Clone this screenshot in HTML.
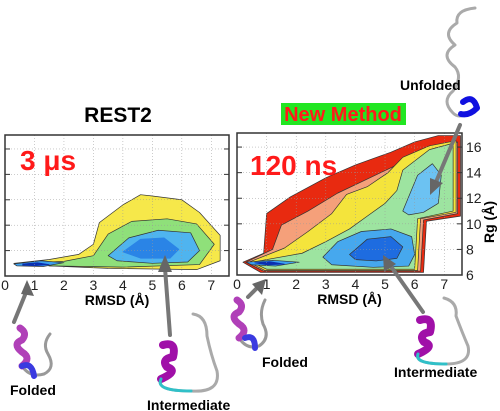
<!DOCTYPE html>
<html><head><meta charset="utf-8"><style>
body{margin:0;background:#fff}
svg{display:block;font-family:"Liberation Sans",sans-serif}
</style></head><body>
<svg id="fig" width="500" height="411" viewBox="0 0 500 411" xmlns="http://www.w3.org/2000/svg">
<text x="118" y="122" font-size="21" font-weight="bold" text-anchor="middle">REST2</text>
<rect x="281" y="103" width="125" height="22" fill="#22e622"/>
<text x="343" y="121" font-size="20" font-weight="bold" fill="#ff1a1a" text-anchor="middle">New Method</text>
<g id="left"></g><g id="right"></g>
</svg>
<script>
// ---- data ----
const xTicks=[0,1,2,3,4,5,6,7];
const yTicks=[6,8,10,12,14,16];
const xDomain=[0,7.6], yDomain=[6,17.1];
const leftYellowX=[0.3,1.5,2.5,3.0,3.2,4.0,4.6,5.0,6.0,6.6,7.3,7.3,6.5,3.5,1.5];
const leftYellowY=[7.0,7.3,7.7,8.5,10.2,11.6,12.4,12.3,12.0,11.0,9.2,7.2,6.5,6.6,6.8];
const leftGreenX=[0.4,2.0,3.0,3.5,4.3,5.5,6.5,7.1,6.6,4.0,1.5];
const leftGreenY=[7.0,7.15,7.6,9.3,10.3,10.5,10.1,8.5,6.9,6.7,6.8];
const leftBlueX=[3.5,4.2,5.2,6.3,6.6,6.2,5.0,3.8];
const leftBlueY=[7.6,9.0,9.6,9.4,8.0,7.1,7.0,7.2];
const leftDeepX=[4.0,4.6,5.4,5.9,5.6,4.6];
const leftDeepY=[7.9,8.9,9.0,8.1,7.4,7.4];
const leftFoldedX=[0.3,1.2,2.0,1.3,0.4];
const leftFoldedY=[6.95,7.2,7.05,6.75,6.8];
const leftFoldedDeepX=[0.6,1.1,1.5,1.0,0.6];
const leftFoldedDeepY=[6.95,7.05,6.9,6.8,6.85];
const rRedX=[0.2,0.9,1.0,1.8,3.0,4.0,5.2,6.0,6.8,7.55,7.55,6.4,6.3,0.8];
const rRedY=[7.0,7.7,10.8,12.1,13.6,14.6,15.6,16.4,16.9,16.9,10.6,10.2,6.2,6.2];
const rOrangeX=[0.3,1.2,1.5,2.4,3.4,4.4,5.4,6.4,7.45,7.45,6.3,6.2,0.9];
const rOrangeY=[7.0,8.0,9.9,11.0,12.4,13.5,14.6,15.6,16.4,10.8,10.3,6.3,6.3];
const rYellowX=[0.4,1.6,2.4,3.2,3.7,4.4,5.1,5.6,6.5,7.4,7.4,6.2,6.1,0.95];
const rYellowY=[7.0,8.1,9.4,10.8,12.3,12.9,14.0,15.2,16.1,16.5,10.9,10.4,6.35,6.35];
const rGreenX=[0.5,2.2,3.0,3.8,4.4,5.0,5.4,5.6,6.5,7.3,7.3,6.1,6.0,1.0];
const rGreenY=[7.0,7.7,8.6,9.6,10.6,11.6,12.6,14.2,15.8,16.3,11.0,10.4,6.45,6.45];
const rCyanX=[2.9,3.4,4.2,5.2,5.9,6.0,5.8,4.6,3.2];
const rCyanY=[7.4,8.6,9.4,9.6,9.0,7.6,6.7,6.6,6.8];
const rUpperX=[5.6,6.1,6.6,6.9,6.8,6.3,5.8];
const rUpperY=[11.0,13.8,14.7,13.8,11.6,10.9,10.7];
const rDeepX=[3.8,4.4,5.2,5.6,5.4,4.7,4.0];
const rDeepY=[7.6,8.8,9.0,8.2,7.3,7.1,7.2];
const rFoldedX=[0.3,1.2,2.1,1.3,0.5];
const rFoldedY=[7.0,7.15,7.0,6.7,6.8];
const rFoldedDeepX=[0.6,1.1,1.6,1.0];
const rFoldedDeepY=[6.95,7.05,6.85,6.8];

const NS="http://www.w3.org/2000/svg";
function mk(parent,tag,attrs){const e=document.createElementNS(NS,tag);for(const k in attrs)e.setAttribute(k,attrs[k]);parent.appendChild(e);return e;}
function panel(g,x0,top,width,height,name,layers,showY){
  const sx=v=>x0+(v-xDomain[0])/(xDomain[1]-xDomain[0])*width;
  const sy=v=>top+height-(v-yDomain[0])/(yDomain[1]-yDomain[0])*height;
  const bg=mk(g,'rect',{x:x0,y:top,width:width,height:height,fill:'#fff'});
  
  
  layers.forEach(L=>{
    const pts=L.xs.map((v,i)=>sx(v)+','+sy(L.ys[i])).join(' ');
    const p=mk(g,'polygon',{points:pts,fill:L.fill,stroke:L.stroke||'#333','stroke-width':0.7,'stroke-linejoin':'round'});
    
    
  });
  xTicks.forEach(t=>{
    const l=mk(g,'line',{x1:sx(t),x2:sx(t),y1:top,y2:top+height,stroke:'#999','stroke-width':0.5,'stroke-dasharray':'1,2'});
    
    
    const tx=mk(g,'text',{x:sx(t),y:top+height+14,'font-size':14,'text-anchor':'middle',fill:'#222'});
    tx.textContent=t;
    
    
  });
  yTicks.forEach(t=>{
    const l=mk(g,'line',{x1:x0,x2:x0+width,y1:sy(t),y2:sy(t),stroke:'#999','stroke-width':0.5,'stroke-dasharray':'1,2'});
    
    
    mk(g,'line',{x1:x0,x2:x0+5,y1:sy(t),y2:sy(t),stroke:'#333'});
    mk(g,'line',{x1:x0+width-5,x2:x0+width,y1:sy(t),y2:sy(t),stroke:'#333'});
    if(showY){
      const tx=mk(g,'text',{x:x0+width+4,y:sy(t)+5,'font-size':14,fill:'#222'});
      tx.textContent=t;
      
      
    }
  });
  const fr=mk(g,'rect',{x:x0,y:top,width:width,height:height,fill:'none',stroke:'#333','stroke-width':1.5});
  
  
  const xl=mk(g,'text',{x:x0+width/2,y:top+height+29,'font-size':14,'font-weight':'bold','text-anchor':'middle'});
  xl.textContent='RMSD (Å)';
  
  
}
const L=document.getElementById('left'), R=document.getElementById('right');
panel(L,5,135,224,141,'rest2',[
  {n:'yellow',xs:leftYellowX,ys:leftYellowY,fill:'#f6e84a'},
  {n:'green',xs:leftGreenX,ys:leftGreenY,fill:'#8fe07a'},
  {n:'blue',xs:leftBlueX,ys:leftBlueY,fill:'#4fb4ef'},
  {n:'deep',xs:leftDeepX,ys:leftDeepY,fill:'#2a84e6',stroke:'#2a84e6'},
  {n:'folded',xs:leftFoldedX,ys:leftFoldedY,fill:'#3aa0f0'},
  {n:'folded-deep',xs:leftFoldedDeepX,ys:leftFoldedDeepY,fill:'#0b2fb0',stroke:'#0b2fb0'}
],false);
panel(R,237,133,225,142,'new-method',[
  {n:'red',xs:rRedX,ys:rRedY,fill:'#e82a10'},
  {n:'orange',xs:rOrangeX,ys:rOrangeY,fill:'#f5a07a'},
  {n:'yellow',xs:rYellowX,ys:rYellowY,fill:'#f4e43c'},
  {n:'green',xs:rGreenX,ys:rGreenY,fill:'#9de4a0'},
  {n:'cyan',xs:rCyanX,ys:rCyanY,fill:'#46a8ee'},
  {n:'upper',xs:rUpperX,ys:rUpperY,fill:'#6cc2f2'},
  {n:'deep',xs:rDeepX,ys:rDeepY,fill:'#1e6ce0'},
  {n:'folded',xs:rFoldedX,ys:rFoldedY,fill:'#3aa0f0'},
  {n:'folded-deep',xs:rFoldedDeepX,ys:rFoldedDeepY,fill:'#0b2fb0',stroke:'#0b2fb0'}
],true);
</script>
<svg style="position:absolute;left:0;top:0" width="500" height="411" viewBox="0 0 500 411" xmlns="http://www.w3.org/2000/svg" font-family="Liberation Sans, sans-serif">
<text x="20" y="170" font-size="28" font-weight="bold" fill="#ff1a1a">3 μs</text>
<text x="250" y="175" font-size="28" font-weight="bold" fill="#ff1a1a">120 ns</text>
<text transform="translate(494,222) rotate(-90)" font-size="14" font-weight="bold" text-anchor="middle">Rg (Å)</text>
<g fill="none" stroke-linecap="round" stroke-linejoin="round">
 <path d="M20 328 q8 5 2 12 q-10 4 0 12 q10 6 0 14 q8 12 22 8 q12-6 4-20 q-6-10 2-20" stroke="#999" stroke-width="3"/>
 <path d="M20 328 q8 5 2 12 q-10 4 0 12 q10 6 0 14" stroke="#b040b8" stroke-width="7"/>
 <path d="M22 366 q10 -4 12 10" stroke="#3a3ae0" stroke-width="6"/>
 <path d="M163 345 q14-4 10 12 q-12 2-6 10 q12 4-6 12 q-6 12 30 12 q30 2 26-20 q-6-16-10-35 q0-20-14-22" stroke="#aaa" stroke-width="3"/>
 <path d="M163 345 q14-4 10 12 q-12 2-6 10 q12 4-6 12" stroke="#a010a8" stroke-width="8"/>
 <path d="M161 379 q-6 12 30 12" stroke="#30c0c8" stroke-width="3"/>
 <path d="M237 300 q8 5 2 12 q-10 4 0 12 q10 6 0 14 q8 12 20 8 q12-8 4-22 q-4-12 2-24" stroke="#999" stroke-width="3"/>
 <path d="M237 300 q8 5 2 12 q-10 4 0 12 q10 6 0 14" stroke="#b040b8" stroke-width="7"/>
 <path d="M245 338 q10 -4 10 10" stroke="#3a3ae0" stroke-width="6"/>
 <path d="M420 320 q14-4 10 12 q-12 2-6 10 q12 4-6 12 q-4 10 28 10 q26 0 22-18 q-6-14-12-30 q2-14-12-18" stroke="#aaa" stroke-width="3"/>
 <path d="M420 320 q14-4 10 12 q-12 2-6 10 q12 4-6 12" stroke="#a010a8" stroke-width="8"/>
 <path d="M418 354 q-4 10 28 10" stroke="#30c0c8" stroke-width="3"/>
 <path d="M475 8 q-20 2-18 15 q-16 10-2 22 q-16 10 0 22 q8 10 -2 24 q-12 10 0 22 q6 6 14 0" stroke="#aaa" stroke-width="3"/>
 <path d="M463 102 q10-8 14 6 q-8 8-16 6" stroke="#1010e0" stroke-width="6"/>
 <g stroke="#777" stroke-width="4">
  <line x1="14" y1="322" x2="27" y2="290"/>
  <line x1="170" y1="335" x2="165" y2="268"/>
  <line x1="248" y1="297" x2="258" y2="287"/>
  <line x1="423" y1="312" x2="390" y2="265"/>
  <line x1="460" y1="125" x2="436" y2="182"/>
 </g>
 <g fill="#666" stroke="none">
  <polygon points="27,280 21,294 34,296"/>
  <polygon points="165,255 158,272 172,272"/>
  <polygon points="266,279 252,284 262,295"/>
  <polygon points="383,255 384,272 396,264"/>
  <polygon points="430,195 430,178 443,183"/>
 </g>
</g>
<text x="10" y="395" font-size="14" font-weight="bold">Folded</text>
<text x="147" y="410" font-size="14" font-weight="bold">Intermediate</text>
<text x="262" y="367" font-size="14" font-weight="bold">Folded</text>
<text x="394" y="377" font-size="14" font-weight="bold">Intermediate</text>
<text x="400" y="90" font-size="14" font-weight="bold">Unfolded</text>
</svg>
</body></html>
